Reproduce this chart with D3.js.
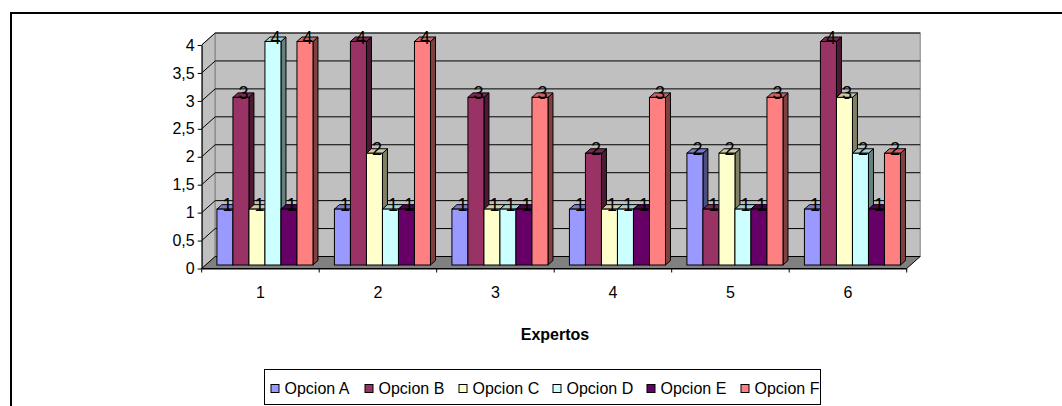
<!DOCTYPE html>
<html>
<head>
<meta charset="utf-8">
<script src="https://cdn.jsdelivr.net/npm/d3@7"></script>
<style>
  html, body { margin: 0; padding: 0; background: #fff; }
  svg { display: block; font-family: "Liberation Sans", Arial, sans-serif; }
</style>
</head>
<body>
<svg id="chart" width="1062" height="406"></svg>
<script>
// Expert votes per option (one value per expert)
const categories = ["1", "2", "3", "4", "5", "6"];
const seriesNames = ["Opcion A", "Opcion B", "Opcion C", "Opcion D", "Opcion E", "Opcion F"];
const opcionA = [1, 1, 1, 1, 2, 1];
const opcionB = [3, 4, 3, 2, 1, 4];
const opcionC = [1, 2, 1, 1, 2, 3];
const opcionD = [4, 1, 1, 1, 1, 2];
const opcionE = [1, 1, 1, 1, 1, 1];
const opcionF = [4, 4, 3, 3, 3, 2];
const seriesValues = [opcionA, opcionB, opcionC, opcionD, opcionE, opcionF];
const seriesColors = ["#9999FF", "#993366", "#FFFFCC", "#CCFFFF", "#660066", "#FF8080"];
const yTickValues = [0, 0.5, 1, 1.5, 2, 2.5, 3, 3.5, 4];
const xTitle = "Expertos";

// ---- layout ----
const svg = d3.select("#chart");
const plotLeft = 201.7, plotRight = 906.7;
const plotBottom = 268.5, plotTop = 45;
const wallDx = 13.5, wallDy = -12;      // depth of back wall
const barDx = 4.5, barDy = -3.5;        // front plane of the bars
const barDepthX = 5, barDepthY = -4.5;  // thickness of each bar

const y = d3.scaleLinear().domain([0, 4]).range([plotBottom, plotTop]);
const x0 = d3.scaleBand().domain(categories).range([plotLeft, plotRight]).padding(0);
const x1 = d3.scaleBand().domain(seriesNames).range([0, x0.bandwidth()])
  .paddingInner(0).paddingOuter(0.67);

function shade(c, f) {
  const r = d3.rgb(c);
  return d3.rgb(r.r * f, r.g * f, r.b * f).formatHex();
}

// outer frame of the chart area
svg.append("path")
  .attr("d", "M11,406 V13 H1062")
  .attr("fill", "none").attr("stroke", "#000").attr("stroke-width", 2);

// ---- walls and floor ----
const walls = svg.append("g");
// side wall
walls.append("polygon")
  .attr("points", [
    [plotLeft, y(4)], [plotLeft + wallDx, y(4) + wallDy],
    [plotLeft + wallDx, y(0) + wallDy], [plotLeft, y(0)]
  ].join(" "))
  .attr("fill", "#C0C0C0").attr("stroke", "#808080").attr("stroke-width", 1);
// back wall
walls.append("rect")
  .attr("x", plotLeft + wallDx).attr("y", y(4) + wallDy)
  .attr("width", plotRight - plotLeft).attr("height", y(0) - y(4))
  .attr("fill", "#C0C0C0").attr("stroke", "#808080").attr("stroke-width", 1);
// gridlines across side and back wall
yTickValues.filter(v => v > 0).forEach(v => {
  walls.append("path")
    .attr("d", `M${plotLeft},${y(v)} L${plotLeft + wallDx},${y(v) + wallDy} H${plotRight + wallDx}`)
    .attr("fill", "none").attr("stroke", "#000").attr("stroke-width", 1);
});
// floor
walls.append("polygon")
  .attr("points", [
    [plotLeft, y(0)], [plotLeft + wallDx, y(0) + wallDy],
    [plotRight + wallDx, y(0) + wallDy], [plotRight, y(0)]
  ].join(" "))
  .attr("fill", "#808080").attr("stroke", "#000").attr("stroke-width", 1);

// ---- axes ----
const yAxis = d3.axisLeft(y)
  .tickValues(yTickValues)
  .tickFormat(d => String(d).replace(".", ","))
  .tickSize(4).tickSizeOuter(0).tickPadding(3);
const gy = svg.append("g").attr("transform", `translate(${plotLeft},0)`).call(yAxis);
gy.selectAll("text").attr("font-size", 16).attr("fill", "#000")
  .attr("font-family", "'Liberation Sans', Arial, sans-serif");
gy.selectAll("line, path").attr("stroke", "#000");

const xAxis = d3.axisBottom(x0).tickSize(0).tickSizeOuter(0).tickPadding(18);
const gx = svg.append("g").attr("transform", `translate(0,${plotBottom})`).call(xAxis);
gx.selectAll("text").attr("font-size", 16).attr("fill", "#000")
  .attr("font-family", "'Liberation Sans', Arial, sans-serif");
gx.select("path.domain").attr("stroke", "#000");
// tick marks at the category boundaries
const boundaries = categories.map(c => x0(c)).concat([x0.range()[1]]);
gx.selectAll("line.bound").data(boundaries).join("line")
  .attr("class", "bound")
  .attr("x1", d => d).attr("x2", d => d)
  .attr("y1", 0).attr("y2", 4)
  .attr("stroke", "#000");

svg.append("text")
  .attr("x", 555).attr("y", 340)
  .attr("text-anchor", "middle")
  .attr("font-size", 16).attr("font-weight", "bold")
  .text(xTitle);

// ---- 3D bars ----
const bars = svg.append("g");
const w = x1.bandwidth();
categories.forEach((cat, ci) => {
  seriesNames.forEach((name, si) => {
    const v = seriesValues[si][ci];
    const col = seriesColors[si];
    const xl = x0(cat) + x1(name) + barDx;
    const xr = xl + w;
    const yt = y(v) + barDy;
    const yb = y(0) + barDy;
    const g = bars.append("g");
    // side face
    g.append("polygon")
      .attr("points", [[xr, yt], [xr + barDepthX, yt + barDepthY], [xr + barDepthX, yb + barDepthY], [xr, yb]].join(" "))
      .attr("fill", shade(col, 0.5)).attr("stroke", "#000").attr("stroke-width", 1).attr("stroke-linejoin", "round");
    // top face
    g.append("polygon")
      .attr("points", [[xl, yt], [xl + barDepthX, yt + barDepthY], [xr + barDepthX, yt + barDepthY], [xr, yt]].join(" "))
      .attr("fill", shade(col, 0.8)).attr("stroke", "#000").attr("stroke-width", 1).attr("stroke-linejoin", "round");
    // front face
    g.append("rect")
      .attr("x", xl).attr("y", yt).attr("width", w).attr("height", yb - yt)
      .attr("fill", col).attr("stroke", "#000").attr("stroke-width", 1);
  });
});

// value labels above every bar
const labels = svg.append("g");
categories.forEach((cat, ci) => {
  seriesNames.forEach((name, si) => {
    const v = seriesValues[si][ci];
    labels.append("text")
      .attr("x", x0(cat) + x1(name) + barDx + w / 2 + barDepthX / 2)
      .attr("y", y(v) + barDy + 2)
      .attr("text-anchor", "middle")
      .attr("font-size", 18)
      .text(v);
  });
});

// ---- legend ----
const legend = svg.append("g");
legend.append("rect")
  .attr("x", 264.5).attr("y", 369.5).attr("width", 556).attr("height", 35)
  .attr("fill", "#fff").attr("stroke", "#000").attr("stroke-width", 1);
seriesNames.forEach((name, i) => {
  const lx = 270.5 + i * 94;
  legend.append("rect")
    .attr("x", lx + 0.5).attr("y", 384.5).attr("width", 8).attr("height", 8)
    .attr("fill", seriesColors[i]).attr("stroke", "#000").attr("stroke-width", 1);
  legend.append("text")
    .attr("x", lx + 14).attr("y", 394)
    .attr("font-size", 16)
    .text(name);
});
</script>
</body>
</html>
